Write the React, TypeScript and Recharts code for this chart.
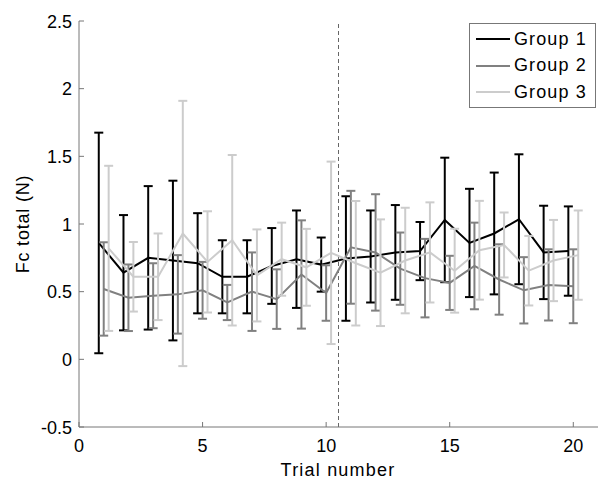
import {
  ComposedChart,
  Line,
  XAxis,
  YAxis,
  ErrorBar,
  ReferenceLine,
  Legend,
} from 'recharts';

const trials = [1, 2, 3, 4, 5, 6, 7, 8, 9, 10, 11, 12, 13, 14, 15, 16, 17, 18, 19, 20];

const group1Mean = [0.86, 0.64, 0.75, 0.73, 0.71, 0.61, 0.61, 0.69, 0.74, 0.7, 0.745, 0.76, 0.79, 0.8, 1.03, 0.86, 0.93, 1.035, 0.79, 0.8];
const group1Err = [0.815, 0.426, 0.53, 0.59, 0.37, 0.27, 0.27, 0.28, 0.36, 0.2, 0.46, 0.34, 0.35, 0.215, 0.46, 0.4, 0.45, 0.48, 0.345, 0.33];

const group2Mean = [0.52, 0.455, 0.47, 0.48, 0.51, 0.42, 0.5, 0.445, 0.627, 0.49, 0.828, 0.79, 0.67, 0.6, 0.565, 0.69, 0.59, 0.51, 0.55, 0.54];
const group2Err = [0.345, 0.246, 0.24, 0.29, 0.21, 0.13, 0.29, 0.22, 0.4, 0.205, 0.417, 0.43, 0.267, 0.29, 0.2, 0.32, 0.26, 0.245, 0.263, 0.273];

const group3Mean = [0.82, 0.61, 0.61, 0.93, 0.72, 0.88, 0.62, 0.74, 0.68, 0.787, 0.71, 0.64, 0.73, 0.79, 0.655, 0.806, 0.845, 0.655, 0.73, 0.77];
const group3Err = [0.61, 0.257, 0.32, 0.98, 0.374, 0.63, 0.34, 0.27, 0.284, 0.674, 0.46, 0.394, 0.39, 0.37, 0.31, 0.365, 0.24, 0.257, 0.3, 0.33];

const xTicks = [0, 5, 10, 15, 20];
const yTicks = [-0.5, 0, 0.5, 1, 1.5, 2, 2.5];
const splitTrial = 10.5;

const FONT = '"Liberation Sans", Arial, Helvetica, sans-serif';
const AXIS = '#777';

// small horizontal shift so the error bars of the groups don't sit on top of each other
const series = [
  { name: 'Group 1', color: '#000000', mean: group1Mean, err: group1Err, shift: -0.2 },
  { name: 'Group 2', color: '#808080', mean: group2Mean, err: group2Err, shift: 0 },
  { name: 'Group 3', color: '#cccccc', mean: group3Mean, err: group3Err, shift: 0.2 },
].map((s) => ({
  ...s,
  data: trials.map((t, i) => ({ x: t + s.shift, y: s.mean[i], err: s.err[i] })),
}));

const XTick = ({ x, y, payload }: any) => (
  <g>
    <line x1={x} x2={x} y1={y} y2={y - 5} stroke={AXIS} />
    <text x={x} y={y + 25} textAnchor="middle" fontSize={18} fontFamily={FONT} fill="#000">
      {payload.value}
    </text>
  </g>
);

const YTick = ({ x, y, payload }: any) => (
  <g>
    <line x1={x} x2={x + 5} y1={y} y2={y} stroke={AXIS} />
    <text x={x - 7} y={y + 6.5} textAnchor="end" fontSize={18} fontFamily={FONT} fill="#000">
      {payload.value}
    </text>
  </g>
);

const LegendBox = () => (
  <div
    style={{
      width: 127,
      height: 85,
      boxSizing: 'border-box',
      border: `1px solid ${AXIS}`,
      background: '#fff',
      paddingTop: 2,
      fontFamily: FONT,
      fontSize: 18,
    }}
  >
    {series.map((s) => (
      <div key={s.name} style={{ height: 26.5, display: 'flex', alignItems: 'center' }}>
        <div style={{ width: 34, height: 2, background: s.color, marginLeft: 6, marginRight: 4 }} />
        <span style={{ color: '#000', letterSpacing: 1.1 }}>{s.name}</span>
      </div>
    ))}
  </div>
);

export default function App() {
  return (
    <div style={{ position: 'absolute', left: 0, top: 0, width: 600, height: 481, background: '#fff' }}>
      <ComposedChart width={600} height={481} margin={{ top: 21, right: 2, left: 0, bottom: 0 }}>
        <XAxis
          type="number"
          dataKey="x"
          domain={[0, 21]}
          ticks={xTicks}
          height={54}
          tickSize={0}
          tickMargin={0}
          tickLine={false}
          tick={XTick}
          axisLine={{ stroke: AXIS }}
          allowDuplicatedCategory={false}
          label={{
            content: () => (
              <text x={338} y={476} textAnchor="middle" fontSize={18} fontFamily={FONT} fill="#000" letterSpacing={1.2}>
                Trial number
              </text>
            ),
          }}
        />
        <YAxis
          type="number"
          domain={[-0.5, 2.5]}
          ticks={yTicks}
          width={79}
          tickSize={0}
          tickMargin={0}
          tickLine={false}
          tick={YTick}
          axisLine={{ stroke: AXIS }}
          label={{
            content: () => (
              <text
                x={29}
                y={224}
                transform="rotate(-90, 29, 224)"
                textAnchor="middle"
                fontSize={18}
                fontFamily={FONT}
                fill="#000"
                letterSpacing={0.8}
              >
                Fc total (N)
              </text>
            ),
          }}
        />
        <ReferenceLine x={splitTrial} stroke="#666" strokeDasharray="4 3" />
        {series.map((s) => (
          <Line
            key={s.name}
            data={s.data}
            dataKey="y"
            name={s.name}
            stroke={s.color}
            strokeWidth={2}
            dot={false}
            activeDot={false}
            isAnimationActive={false}
          >
            <ErrorBar dataKey="err" direction="y" width={4.5} stroke={s.color} strokeWidth={2} />
          </Line>
        ))}
        <Legend
          layout="vertical"
          align="center"
          verticalAlign="middle"
          content={LegendBox}
          wrapperStyle={{ position: 'absolute', left: 469, top: 23, width: 127, height: 85 }}
        />
      </ComposedChart>
    </div>
  );
}
